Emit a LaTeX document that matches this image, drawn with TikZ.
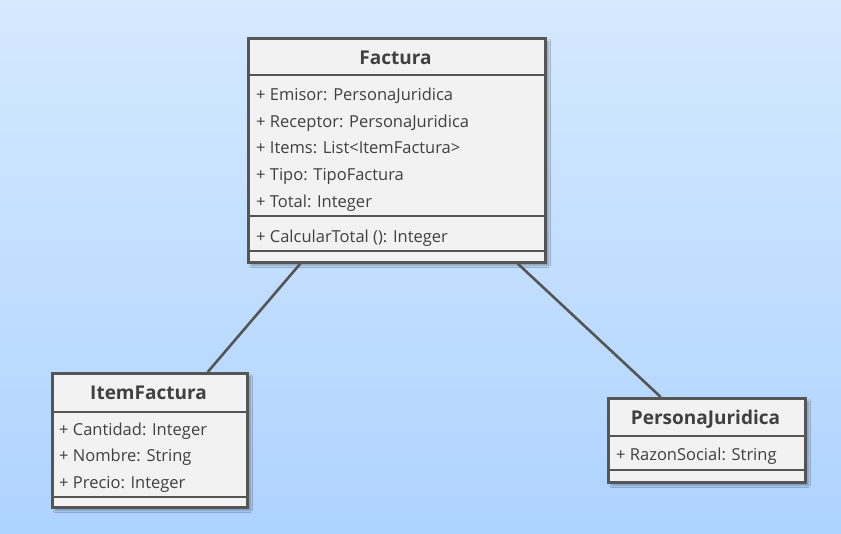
\documentclass[tikz,border=0pt]{standalone}
\usepackage{fontspec}
\setmainfont{Open Sans}
\usetikzlibrary{shadows.blur}
\definecolor{bgtop}{RGB}{213,233,255}
\definecolor{bgbot}{RGB}{174,211,255}
\definecolor{umlline}{RGB}{85,85,85}
\definecolor{umlfill}{RGB}{242,242,242}
\definecolor{umltext}{RGB}{64,64,64}
\tikzset{
  classbox/.style={rectangle, draw=umlline, fill=umlfill, line width=2.6pt, inner sep=0pt, anchor=north west,
    blur shadow={shadow xshift=3pt, shadow yshift=-3pt, shadow opacity=35, shadow blur steps=6}},
  septr/.style={draw=umlline, line width=2.6pt},
  classname/.style={inner sep=0pt, text=umltext, font=\fontsize{19}{21}\selectfont\bfseries},
  member/.style={inner sep=0pt, anchor=base west, text=umltext, font=\fontsize{16.5}{18}\selectfont},
  assoc/.style={draw=umlline, line width=2.6pt}
}
\begin{document}
\begin{tikzpicture}[x=1pt,y=1pt,yscale=-1]
% background
\shade [top color=bgtop, bottom color=bgbot] (0,0) rectangle (841,533);
\useasboundingbox (0,0) rectangle (841,533);

% Class boxes
\node [classbox, minimum width=297pt, minimum height=224pt] (factura) at (247,37) {};
\node [classbox, minimum width=195pt, minimum height=134pt] (item) at (51,372) {};
\node [classbox, minimum width=197pt, minimum height=84pt] (persona) at (607,397) {};

% Associations
\draw [assoc] (factura) -- (item);
\draw [assoc] (factura) -- (persona);

% Compartments
\draw [septr] ([yshift=38pt]factura.north west) -- ([yshift=38pt]factura.north east);
\draw [septr] ([yshift=179pt]factura.north west) -- ([yshift=179pt]factura.north east);
\draw [septr] ([yshift=214pt]factura.north west) -- ([yshift=214pt]factura.north east);
\draw [septr] ([yshift=40pt]item.north west) -- ([yshift=40pt]item.north east);
\draw [septr] ([yshift=125pt]item.north west) -- ([yshift=125pt]item.north east);
\draw [septr] ([yshift=39pt]persona.north west) -- ([yshift=39pt]persona.north east);
\draw [septr] ([yshift=73pt]persona.north west) -- ([yshift=73pt]persona.north east);

% Text Node
\node [classname, anchor=base] (facturaname) at (395.5,64) {Factura};
\node [member] (emisor) at (256,100) {+ Emisor: PersonaJuridica};
\node [member] (receptor) at (256,127) {+ Receptor: PersonaJuridica};
\node [member] (items) at (256,153) {+ Items: List<ItemFactura>};
\node [member] (tipo) at (256,180) {+ Tipo: TipoFactura};
\node [member] (total) at (256,207) {+ Total: Integer};
\node [member] (calcular) at (256,242) {+ CalcularTotal (): Integer};
% Text Node
\node [classname, anchor=base] (itemname) at (148.5,399) {ItemFactura};
\node [member] (cantidad) at (59,435) {+ Cantidad: Integer};
\node [member] (nombre) at (59,461) {+ Nombre: String};
\node [member] (precio) at (59,488) {+ Precio: Integer};
% Text Node
\node [classname, anchor=base] (personaname) at (705.5,424) {PersonaJuridica};
\node [member] (razon) at (616,460) {+ RazonSocial: String};

\end{tikzpicture}
\end{document}
